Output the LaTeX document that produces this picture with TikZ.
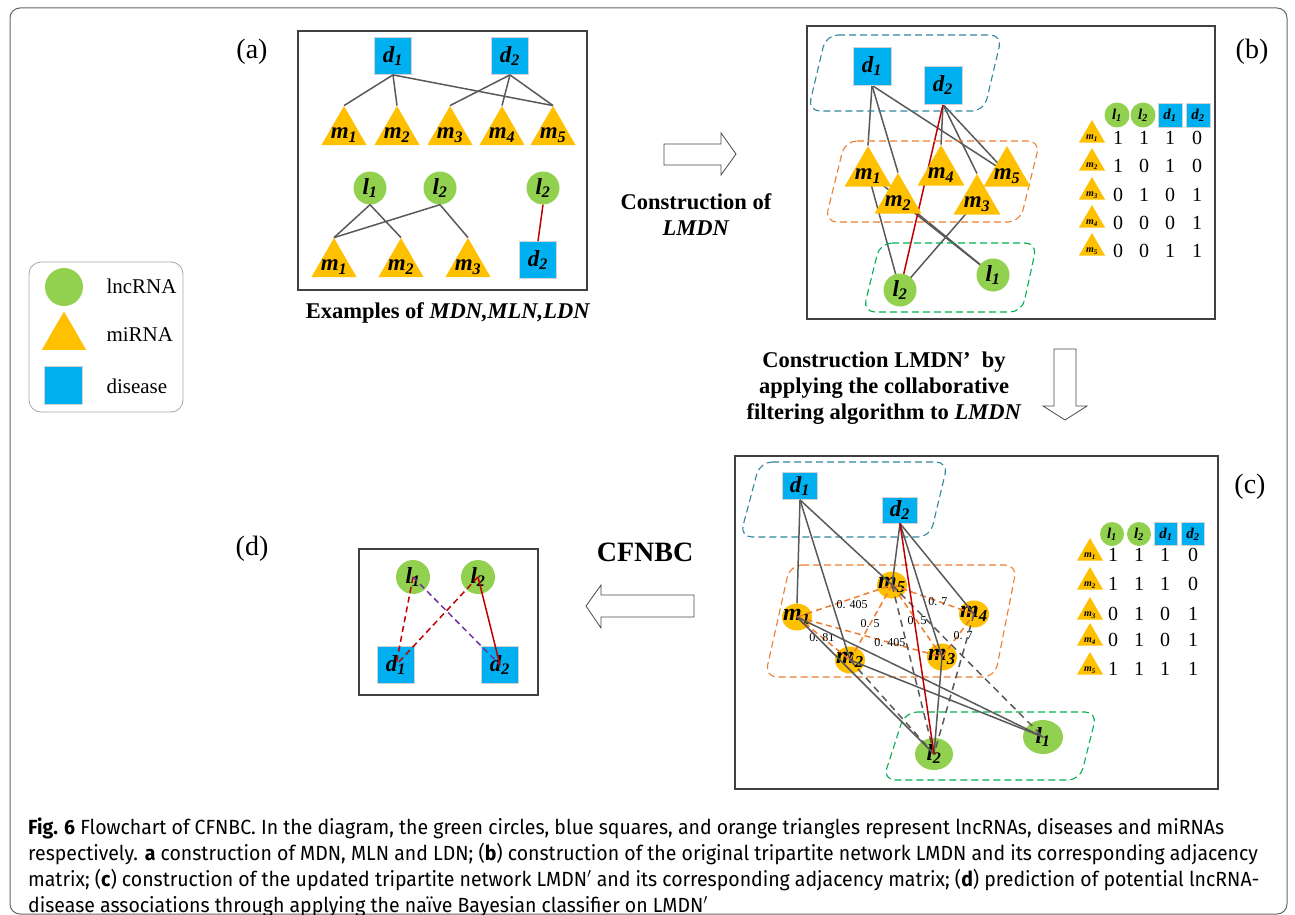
\documentclass[tikz,border=0pt]{standalone}
\usepackage{fontspec}
\setmainfont{Liberation Serif}
\newfontfamily\capfont[FakeStretch=0.95]{Fira Sans}
\usetikzlibrary{calc, shapes.geometric, backgrounds}

\newcommand{\nlab}[2]{\textbf{\textit{#1\textsubscript{#2}}}}

\begin{document}
\begin{tikzpicture}[x=1pt, y=-1pt,
    dis/.style={rectangle, fill=disBlue, draw=gray!35, line width=0.8pt, inner sep=0pt, minimum size=#1, font=\fontsize{23}{23}\selectfont},
    dis/.default=37,
    lnc/.style={circle, fill=lncGreen, inner sep=0pt, minimum size=#1, font=\fontsize{23}{23}\selectfont},
    lnc/.default=33,
    mir/.style={regular polygon, regular polygon sides=3, fill=mirOrange, inner sep=0pt, minimum size=#1},
    mir/.default=52,
    mlab/.style={font=\fontsize{23}{23}\selectfont, yshift=-3pt},
    tlab/.style={font=\fontsize{10}{10}\selectfont, yshift=-3pt},
    cmir/.style={ellipse, fill=mirOrange, inner sep=0pt, minimum width=30, minimum height=27},
    clab/.style={font=\fontsize{24}{24}\selectfont},
    clnc/.style={ellipse, fill=lncGreen, inner sep=0pt, font=\fontsize{23}{23}\selectfont},
    edge/.style={draw=edgeGray, line width=1.5pt},
    redge/.style={draw=edgeRed, line width=1.5pt},
    dedge/.style={draw=edgeGray, line width=1.5pt, dash pattern=on 7pt off 5pt},
    wedge/.style={draw=groupOrange, line width=1.5pt, dash pattern=on 6pt off 4pt},
    wlab/.style={font=\fontsize{12}{12}\selectfont, inner sep=1pt},
    group/.style={line width=1.1pt, dash pattern=on 7pt off 4pt, rounded corners=12pt},
    panel/.style={draw=black!75, line width=1.2pt},
    title/.style={font=\fontsize{28}{28}\selectfont},
    head/.style={font=\bfseries\fontsize{22.5}{26}\selectfont, align=center},
    num/.style={font=\fontsize{20}{20}\selectfont},
    legtext/.style={anchor=west, font=\fontsize{21}{21}\selectfont},
    hollow/.style={draw=black!70, line width=0.8pt, fill=white},
    caption/.style={anchor=base west, inner sep=0pt, font=\fontsize{20.5}{20.5}\capfont}
]
    % Define colours
    \definecolor{lncGreen}{HTML}{92D050}
    \definecolor{mirOrange}{HTML}{FFC000}
    \definecolor{disBlue}{HTML}{00B0F0}
    \definecolor{edgeGray}{HTML}{595959}
    \definecolor{edgeRed}{HTML}{C00000}
    \definecolor{groupBlue}{HTML}{31859C}
    \definecolor{groupOrange}{HTML}{ED7D31}
    \definecolor{groupGreen}{HTML}{00B050}
    \definecolor{predPurple}{HTML}{7030A0}

    \useasboundingbox (0,0) rectangle (1295,915);

    % Outer frame
    \draw[draw=black!60, line width=1pt, rounded corners=10pt] (10,8) rectangle (1287,914);

    % Legend
    \node[draw=gray!70, line width=0.8pt, rounded corners=12pt, minimum width=154, minimum height=150] (legend) at (106,337) {};
    \node[lnc=38] (legl) at (64,287) {};
    \node[mir=51] (legm) at (64,337) {};
    \node[dis=38] (legd) at (63,385) {};
    \node[legtext] (leglt) at (103,286) {lncRNA};
    \node[legtext] (legmt) at (103,335) {miRNA};
    \node[legtext] (legdt) at (103,386) {disease};

    % Panel titles
    \node[title] (ta) at (252,52) {(a)};
    \node[title] (tb) at (1252,52) {(b)};
    \node[title] (tc) at (1250,487) {(c)};
    \node[title] (td) at (252,549) {(d)};

    % ---------- Panel (a) ----------
    \draw[panel] (298,31) rectangle (587,290);
    \node[dis] (ad1) at (393,56) {\nlab{d}{1}};
    \node[dis] (ad2) at (510,56) {\nlab{d}{2}};
    \foreach \i/\x in {1/344, 2/397, 3/450, 4/502, 5/553}
        \node[mir, label={[mlab]center:{\nlab{m}{\i}}}] (am\i) at (\x,132) {};
    \foreach \m in {1,2,5}
        \draw[edge] (ad1.south) -- (am\m.corner 1);
    \foreach \m in {3,4,5}
        \draw[edge] (ad2.south) -- (am\m.corner 1);

    \node[lnc] (al1) at (370,188) {\nlab{l}{1}};
    \node[lnc] (al2) at (440,188) {\nlab{l}{2}};
    \foreach \i/\x in {1/334, 2/401, 3/468}
        \node[mir, label={[mlab]center:{\nlab{m}{\i}}}] (alm\i) at (\x,264) {};
    \draw[edge] (al1.south) -- (alm1.corner 1);
    \draw[edge] (al1.south) -- (alm2.corner 1);
    \draw[edge] (al2.south) -- (alm1.corner 1);
    \draw[edge] (al2.south) -- (alm3.corner 1);

    \node[lnc] (al2b) at (543,188) {\nlab{l}{2}};
    \node[dis] (ad2b) at (538,260) {\nlab{d}{2}};
    \draw[redge] (al2b.south) -- (ad2b.north);

    \node[head] (exhead) at (448,313) {Examples of \textit{MDN,MLN,LDN}};

    % Arrow (a) -> (b)
    \draw[hollow] (664,144) -- (721,144) -- (721,133) -- (736,154) -- (721,175) -- (721,165) -- (664,165) -- cycle;
    \node[head] (lmdnhead) at (696,215) {Construction of\\\textit{LMDN}};

    % ---------- Panel (b) ----------
    \draw[panel] (807,26) rectangle (1215,319);
    \draw[group, draw=groupBlue] (826,35) -- (1002,35) -- (984,111) -- (808,111) -- cycle;
    \draw[group, draw=groupOrange] (845,141) -- (1040,141) -- (1020,222) -- (825,222) -- cycle;
    \draw[group, draw=groupGreen] (880,243) -- (1037,243) -- (1022,312) -- (863,312) -- cycle;

    \node[dis=38] (bd1) at (872,66) {\nlab{d}{1}};
    \node[dis=38] (bd2) at (943,85) {\nlab{d}{2}};
    \foreach \i/\x/\y in {1/868/173, 2/898/200, 3/977/201, 4/941/172, 5/1007/173}
        \node[mir=54, label={[mlab]center:{\nlab{m}{\i}}}] (bm\i) at (\x,\y) {};
    \node[lnc] (bl1) at (993,275) {\nlab{l}{1}};
    \node[lnc] (bl2) at (900,290) {\nlab{l}{2}};

    \begin{scope}[on background layer]
        \draw[edge] (bd1.south) -- (bm1.corner 1);
        \draw[edge] (bd1.south) -- (bm2.corner 1);
        \draw[edge] (bd1.south) -- (bm5.center);
        \draw[edge] (bd2.south) -- (bm4.corner 1);
        \draw[edge] (bd2.south) -- (bm3.corner 1);
        \draw[edge] (bd2.south) -- (bm5.center);
        \draw[edge] (bm1.center) -- (bl2.center);
        \draw[edge] (bm1.center) -- (bl1.center);
        \draw[edge] (bm2.center) -- (bl1.center);
        \draw[edge] (bm3.center) -- (bl2.center);
        \draw[redge] (bd2.south) -- (bl2.center);
    \end{scope}

    % Adjacency matrix (b)
    \node[lnc=25, font=\fontsize{15}{15}\selectfont] (bh1) at (1117,115) {\nlab{l}{1}};
    \node[lnc=25, font=\fontsize{15}{15}\selectfont] (bh2) at (1143,115) {\nlab{l}{2}};
    \node[dis=24, font=\fontsize{15}{15}\selectfont] (bh3) at (1170,115) {\nlab{d}{1}};
    \node[dis=24, font=\fontsize{15}{15}\selectfont] (bh4) at (1198,115) {\nlab{d}{2}};
    \foreach \i/\y/\a/\b/\c/\d in {1/135/1/1/1/0, 2/163/1/0/1/0, 3/192/0/1/0/1, 4/220/0/0/0/1, 5/248/0/0/1/1} {
        \node[mir=30, label={[tlab]center:{\nlab{m}{\i}}}] (bt\i) at (1092,\y) {};
        \node[num] (bv\i a) at (1118,{\y+3}) {\a};
        \node[num] (bv\i b) at (1144,{\y+3}) {\b};
        \node[num] (bv\i c) at (1170,{\y+3}) {\c};
        \node[num] (bv\i d) at (1197,{\y+3}) {\d};
    }

    % Arrow (b) -> (c)
    \draw[hollow] (1054,349) -- (1076,349) -- (1076,406) -- (1087,406) -- (1065,420) -- (1043,406) -- (1054,406) -- cycle;
    \node[head] (cfhead) at (884,388) {Construction LMDN’\enspace by\\applying the collaborative\\filtering algorithm to \textit{LMDN}};

    % ---------- Panel (c) ----------
    \draw[panel] (735,456) rectangle (1218,789);
    \draw[group, draw=groupBlue] (760,462) -- (948,462) -- (930,537) -- (740,537) -- cycle;
    \draw[group, draw=groupOrange] (790,565) -- (1017,565) -- (995,677) -- (765,677) -- cycle;
    \draw[group, draw=groupGreen] (905,712) -- (1097,712) -- (1080,780) -- (883,780) -- cycle;

    \node[dis, minimum width=35, minimum height=27] (cd1) at (800,486) {\nlab{d}{1}};
    \node[dis, minimum width=35, minimum height=26] (cd2) at (900,510) {\nlab{d}{2}};
    \foreach \i/\x/\y in {1/797/617, 2/850/660, 3/942/657, 4/974/614, 5/892/585}
        \node[cmir, label={[clab]center:{\nlab{m}{\i}}}] (cm\i) at (\x,\y) {};
    \node[clnc, minimum width=40, minimum height=34] (cl1) at (1043,737) {\nlab{l}{1}};
    \node[clnc, minimum width=38, minimum height=32] (cl2) at (934,754) {\nlab{l}{2}};

    % Weighted miRNA links
    \draw[wedge] (cm1.center) -- (cm5.center) node[wlab, pos=0.58, below] (w15) {0. 405};
    \draw[wedge] (cm1.center) -- (cm3.center) node[wlab, pos=0.64] (w13) {0. 405};
    \draw[wedge] (cm1.center) -- (cm2.center) node[wlab, pos=0.47] (w12) {0. 81};
    \draw[wedge] (cm2.center) -- (cm5.center) node[wlab, pos=0.48] (w25) {0. 5};
    \draw[wedge] (cm3.center) -- (cm5.center) node[wlab, pos=0.5] (w35) {0. 5};
    \draw[wedge] (cm5.center) -- (cm4.center) node[wlab, pos=0.56] (w54) {0. 7};
    \draw[wedge] (cm3.center) -- (cm4.center) node[wlab, pos=0.66, yshift=-7pt] (w34) {0. 7};

    % Links of the updated network
    \draw[edge] (cd1.south) -- (cm1.north);
    \draw[edge] (cd1.south) -- (cm2.center);
    \draw[edge] (cd1.south) -- (cm5.center);
    \foreach \m in {3,4,5}
        \draw[edge] (cd2.south) -- (cm\m.center);
    \draw[edge] (cm1.center) -- (cl1.center);
    \draw[edge] (cm1.center) -- (cl2.center);
    \draw[edge] (cm2.center) -- (cl1.center);
    \draw[edge] (cm3.center) -- (cl2.center);
    \draw[dedge] (cm2.center) -- (cl2.center);
    \draw[dedge] (cm4.center) -- (cl2.center);
    \draw[dedge] (cm5.center) -- (cl2.center);
    \draw[dedge] (cm5.center) -- (cl1.center);
    \draw[redge] (cd2.south) -- (cl2.center);

    % Adjacency matrix (c)
    \node[lnc=24, font=\fontsize{15}{15}\selectfont] (ch1) at (1112,534) {\nlab{l}{1}};
    \node[lnc=24, font=\fontsize{15}{15}\selectfont] (ch2) at (1139,534) {\nlab{l}{2}};
    \node[dis=23, font=\fontsize{15}{15}\selectfont] (ch3) at (1166,534) {\nlab{d}{1}};
    \node[dis=23, font=\fontsize{15}{15}\selectfont] (ch4) at (1193,534) {\nlab{d}{2}};
    \foreach \i/\y/\a/\b/\c/\d in {1/553/1/1/1/0, 2/582/1/1/1/0, 3/612/0/1/0/1, 4/638/0/1/0/1, 5/667/1/1/1/1} {
        \node[mir=30, label={[tlab]center:{\nlab{m}{\i}}}] (ct\i) at (1090,\y) {};
        \node[num] (cv\i a) at (1113,{\y+2}) {\a};
        \node[num] (cv\i b) at (1139,{\y+2}) {\b};
        \node[num] (cv\i c) at (1165,{\y+2}) {\c};
        \node[num] (cv\i d) at (1193,{\y+2}) {\d};
    }

    % Arrow (c) -> (d)
    \draw[hollow] (694,595) -- (601,595) -- (601,585) -- (586,606) -- (601,628) -- (601,617) -- (694,617) -- cycle;
    \node[head, font=\bfseries\fontsize{28}{28}\selectfont] (cfnbc) at (645,552) {CFNBC};

    % ---------- Panel (d) ----------
    \draw[panel] (359,549) rectangle (538,695);
    \node[lnc=34] (dl1) at (413,577) {\nlab{l}{1}};
    \node[lnc=34] (dl2) at (478,577) {\nlab{l}{2}};
    \node[dis] (dd1) at (396,665) {\nlab{d}{1}};
    \node[dis] (dd2) at (500,665) {\nlab{d}{2}};
    \draw[redge, dash pattern=on 6pt off 4pt] (dl1.center) -- (dd1.center);
    \draw[redge, dash pattern=on 6pt off 4pt] (dl2.center) -- (dd1.center);
    \draw[draw=predPurple, line width=1.5pt, dash pattern=on 6pt off 4pt] (dl1.center) -- (dd2.center);
    \draw[redge] (dl2.center) -- (dd2.center);

    % Caption
    \node[caption] (cap1) at (28,834) {\textbf{Fig. 6} Flowchart of CFNBC. In the diagram, the green circles, blue squares, and orange triangles represent lncRNAs, diseases and miRNAs};
    \node[caption] (cap2) at (28,860) {respectively. \textbf{a} construction of MDN, MLN and LDN; (\textbf{b}) construction of the original tripartite network LMDN and its corresponding adjacency};
    \node[caption] (cap3) at (28,886) {matrix; (\textbf{c}) construction of the updated tripartite network LMDN$^{\prime}$ and its corresponding adjacency matrix; (\textbf{d}) prediction of potential lncRNA-};
    \node[caption] (cap4) at (28,912) {disease associations through applying the naïve Bayesian classifier on LMDN$^{\prime}$};

\end{tikzpicture}
\end{document}
